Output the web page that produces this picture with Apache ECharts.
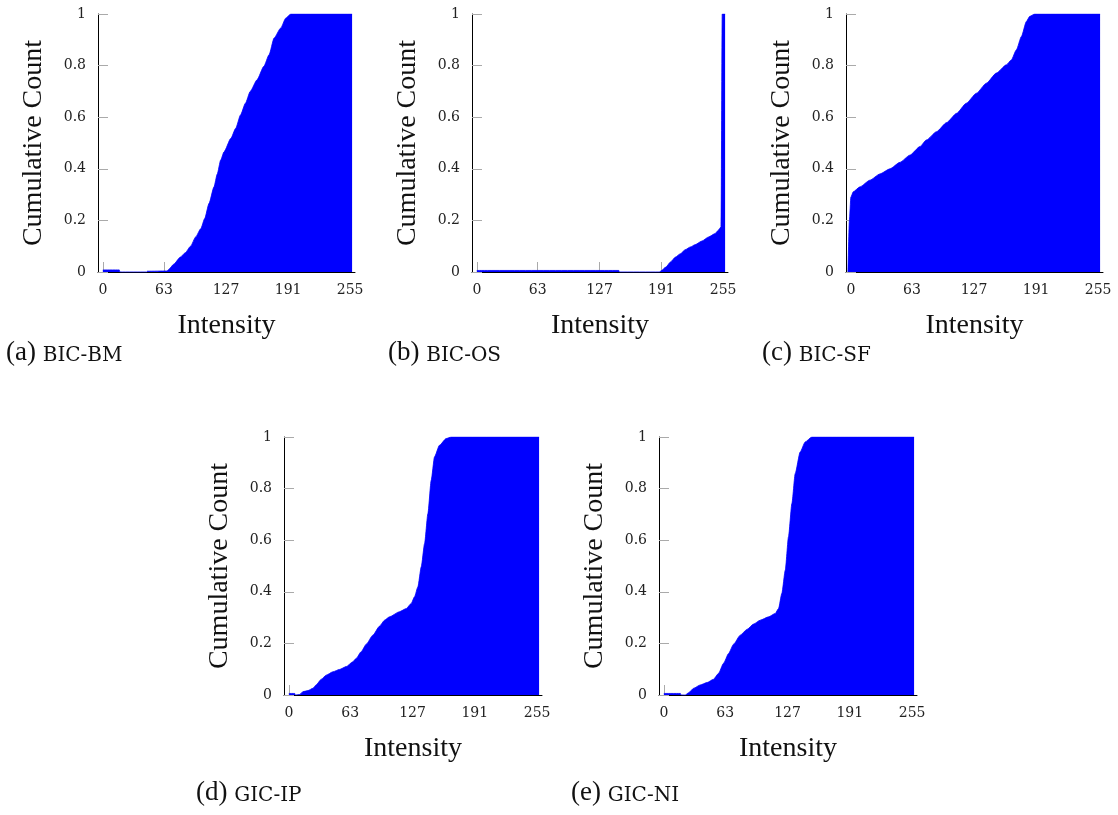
<!DOCTYPE html>
<html>
<head>
<meta charset="utf-8">
<script src="https://cdn.jsdelivr.net/npm/echarts@6/dist/echarts.min.js"></script>
<style>
html,body{margin:0;padding:0;background:#fff;}
#chart{width:1118px;height:815px;}
</style>
</head>
<body>
<div id="chart"></div>
<script>
// Tick labels
const xTicks = [0, 63, 127, 191, 255];
const yTicks = [0, 0.2, 0.4, 0.6, 0.8, 1];

// (a) BIC-BM
const bmX = [0, 17, 17.5, 45, 46, 66, 68, 73, 80, 85, 90.5, 95.7, 101, 105, 109.5, 114.6, 118, 121.5, 125, 132, 137, 142, 147, 152, 159, 166, 171.4, 176.6, 183.5, 188.6, 193.8, 257];
const bmY = [0.008, 0.008, 0, 0, 0.003, 0.004, 0.01, 0.03, 0.058, 0.075, 0.10, 0.136, 0.168, 0.207, 0.266, 0.33, 0.38, 0.434, 0.466, 0.518, 0.557, 0.609, 0.654, 0.70, 0.745, 0.797, 0.842, 0.907, 0.946, 0.984, 1.0, 1.0];

// (b) BIC-OS
const osX = [0, 147, 147.5, 189, 190.6, 195.7, 200.5, 205.7, 210.8, 216, 221, 226, 233, 240, 246.7, 250, 252.8, 254, 257];
const osY = [0.006, 0.006, 0, 0, 0.004, 0.019, 0.039, 0.058, 0.071, 0.087, 0.097, 0.106, 0.12, 0.136, 0.149, 0.162, 0.175, 1, 1];

// (c) BIC-SF
const sfX = [-3, -1.5, 0, 2.5, 9.4, 19.7, 30, 40.3, 50.6, 60.9, 71.2, 78, 88.4, 98.7, 109, 119, 129.5, 139.8, 150, 160.4, 165.5, 170.7, 175.9, 181, 184.5, 189.6, 257];
const sfY = [0, 0.2, 0.29, 0.311, 0.33, 0.356, 0.38, 0.40, 0.425, 0.453, 0.486, 0.512, 0.544, 0.579, 0.615, 0.654, 0.693, 0.732, 0.771, 0.803, 0.822, 0.861, 0.913, 0.971, 0.991, 1, 1];

// (d) GIC-IP
const ipX = [0, 6, 6.5, 11, 14.5, 19.6, 24.7, 28, 33.3, 38.4, 45.3, 52, 58.9, 65.8, 69.2, 74.3, 79.5, 86.3, 93.2, 98.3, 103.4, 113.7, 120.6, 125.7, 129.1, 132.5, 136, 139.4, 142.8, 146.2, 149.6, 154.7, 161.6, 166.7, 257];
const ipY = [0.006, 0.006, 0, 0.002, 0.013, 0.017, 0.026, 0.039, 0.061, 0.077, 0.09, 0.099, 0.11, 0.129, 0.142, 0.168, 0.197, 0.232, 0.267, 0.29, 0.303, 0.323, 0.335, 0.355, 0.381, 0.419, 0.497, 0.587, 0.703, 0.832, 0.923, 0.968, 0.994, 1, 1];

// (e) GIC-NI
const niX = [0, 17, 17.5, 22, 25.5, 30.6, 37.4, 44.3, 51, 56.2, 61.3, 66.5, 71.6, 78.5, 85.3, 92.2, 99, 107.6, 114.4, 117.8, 121.2, 124.7, 128, 131.5, 134.9, 140, 145.2, 152, 257];
const niY = [0.006, 0.006, 0, 0, 0.009, 0.026, 0.039, 0.048, 0.061, 0.084, 0.123, 0.161, 0.197, 0.232, 0.254, 0.275, 0.29, 0.303, 0.316, 0.335, 0.394, 0.484, 0.613, 0.742, 0.858, 0.942, 0.981, 1, 1];

const captionLetters = ['(a)', '(b)', '(c)', '(d)', '(e)'];
const captionNames = ['BIC-BM', 'BIC-OS', 'BIC-SF', 'GIC-IP', 'GIC-NI'];
const xTitle = 'Intensity';
const yTitle = 'Cumulative Count';

const panels = [
  {x: bmX, y: bmY, grid: {left: 98, top: 14, width: 257, height: 258}, cap: {left: 1, top: 331}},
  {x: osX, y: osY, grid: {left: 472, top: 14, width: 256, height: 258}, cap: {left: 383, top: 331}},
  {x: sfX, y: sfY, grid: {left: 846, top: 14, width: 257, height: 258}, cap: {left: 757, top: 331}},
  {x: ipX, y: ipY, grid: {left: 284, top: 437, width: 258, height: 258}, cap: {left: 191, top: 771}},
  {x: niX, y: niY, grid: {left: 659, top: 437, width: 258, height: 258}, cap: {left: 566, top: 771}}
];

const serif = 'Liberation Serif';
const tickFont = 'DejaVu Serif';
const grids = [], xAxes = [], yAxes = [], series = [], titles = [];
panels.forEach((p, i) => {
  grids.push(Object.assign({containLabel: false}, p.grid));
  xAxes.push({
    type: 'value', gridIndex: i, min: -5, max: 260,
    name: xTitle, nameLocation: 'middle', nameGap: 40,
    nameTextStyle: {fontFamily: serif, fontSize: 28, color: '#111', fontWeight: 'normal'},
    axisLine: {show: true, onZero: false, lineStyle: {color: '#000', width: 1}},
    axisTick: {show: true, inside: true, length: 10, customValues: xTicks, lineStyle: {color: '#aaa', width: 1}},
    axisLabel: {show: true, customValues: xTicks, margin: 11, fontFamily: tickFont, fontSize: 14, color: '#222',
      formatter: v => String(v)},
    splitLine: {show: false}
  });
  yAxes.push({
    type: 'value', gridIndex: i, min: 0, max: 1, interval: 0.2,
    name: yTitle, nameLocation: 'middle', nameGap: 50, nameRotate: 90,
    nameTextStyle: {fontFamily: serif, fontSize: 28, color: '#111', fontWeight: 'normal'},
    axisLine: {show: true, onZero: false, lineStyle: {color: '#000', width: 1}},
    axisTick: {show: true, inside: true, length: 10, lineStyle: {color: '#aaa', width: 1}},
    axisLabel: {show: true, margin: 12, fontFamily: tickFont, fontSize: 14, color: '#222',
      formatter: v => (v === 0 ? '0' : v === 1 ? '1' : v.toFixed(1))},
    splitLine: {show: false}
  });
  series.push({
    type: 'line', xAxisIndex: i, yAxisIndex: i,
    data: p.x.map((xv, k) => [xv, p.y[k]]),
    showSymbol: false, symbol: 'none', smooth: 0.2, smoothMonotone: 'x',
    lineStyle: {color: '#0000ff', width: 0.8},
    areaStyle: {color: '#0000ff', opacity: 1},
    silent: true, animation: false, z: 3
  });
  titles.push({
    left: p.cap.left, top: p.cap.top,
    text: '{p|' + captionLetters[i] + ' }{s|' + captionNames[i] + '}',
    textStyle: {fontWeight: 'normal', rich: {
      p: {fontFamily: serif, fontSize: 27, color: '#111', fontWeight: 'normal', verticalAlign: 'bottom', lineHeight: 30},
      s: {fontFamily: 'DejaVu Serif', fontSize: 20, color: '#111', fontWeight: 'normal', verticalAlign: 'bottom', lineHeight: 24}
    }}
  });
});

const chart = echarts.init(document.getElementById('chart'), null, {renderer: 'canvas'});
chart.setOption({
  backgroundColor: '#fff',
  animation: false,
  title: titles,
  grid: grids,
  xAxis: xAxes,
  yAxis: yAxes,
  series: series
});
</script>
</body>
</html>
